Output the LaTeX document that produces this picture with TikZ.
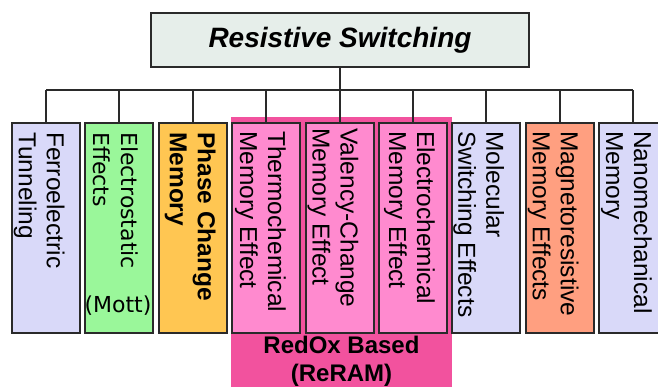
\documentclass[tikz,border=0pt]{standalone}
\usepackage{fontspec}
\setmainfont{Liberation Sans}
\newfontfamily\dejavu{DejaVu Sans}
\definecolor{linec}{HTML}{2A2A2A}
\definecolor{titlefill}{HTML}{E6EEEA}
\definecolor{lav}{HTML}{D9D9F9}
\definecolor{grn}{HTML}{9AF79A}
\definecolor{org}{HTML}{FFC652}
\definecolor{pnk}{HTML}{FF8ACF}
\definecolor{redox}{HTML}{F2529E}
\definecolor{salm}{HTML}{FF9F80}
\begin{document}
\begin{tikzpicture}[x=1pt,y=-1pt,
  box/.style={draw=linec, line width=1.9pt, minimum width=68pt, minimum height=210pt, inner sep=0pt, anchor=north},
  lbl/.style={rotate=-90, anchor=north west, inner sep=0pt, align=left, font=\fontsize{24.5}{28}\selectfont, text=black},
  conn/.style={draw=linec, line width=1.9pt}]
\useasboundingbox (0,0) rectangle (658,387);
\clip (0,0) rectangle (658,387);
% RedOx group background
\fill[redox] (231,117) rectangle (452,395);
\node[font=\bfseries\fontsize{24}{28}\selectfont, align=center, text=black, anchor=north, inner sep=0pt] (redoxlbl) at (341.5,336) {RedOx Based\\(ReRAM)};
% title
\node[draw=linec, line width=1.9pt, fill=titlefill, minimum width=378pt, minimum height=54pt, inner sep=0pt,
  font=\bfseries\itshape\fontsize{28}{32}\selectfont] (title) at (340,40) {Resistive Switching};
% boxes
\node[box, fill=lav] (b1) at (46,122) {};
\node[box, fill=grn] (b2) at (119.4,122) {};
\node[box, fill=org] (b3) at (192.8,122) {};
\node[box, fill=pnk] (b4) at (266.2,122) {};
\node[box, fill=pnk] (b5) at (339.6,122) {};
\node[box, fill=pnk] (b6) at (413,122) {};
\node[box, fill=lav] (b7) at (486.4,122) {};
\node[box, fill=salm] (b8) at (559.8,122) {};
\node[box, fill=lav] (b9) at (633.2,122) {};
% connectors
\coordinate (bus) at (46,90);
\draw[conn] (title.south) -- (title.south |- bus);
\draw[conn] (b1.north |- bus) -- (b9.north |- bus);
\foreach \i in {1,...,9} {\draw[conn] (b\i.north) -- (b\i.north |- bus);}
% labels
\node[lbl] (t1) at ([xshift=-16pt,yshift=-10pt]b1.north east) {Ferroelectric\\Tunneling};
\node[lbl, font=\dejavu\fontsize{22}{28}\selectfont] (t2) at ([xshift=-16pt,yshift=-10pt]b2.north east) {Electrostatic\\Effects};
\node[font=\dejavu\fontsize{22}{26}\selectfont, anchor=base, inner sep=0pt] (t2b) at (118,312) {(Mott)};
\node[lbl, font=\bfseries\fontsize{24.5}{28}\selectfont] (t3) at ([xshift=-12pt,yshift=-10pt]b3.north east) {Phase Change\\Memory};
\node[lbl] (t4) at ([xshift=-15pt,yshift=-9pt]b4.north east) {Thermochemical\\Memory Effect};
\node[lbl] (t5) at ([xshift=-16pt,yshift=-6pt]b5.north east) {Valency-Change\\Memory Effect};
\node[lbl] (t6) at ([xshift=-13pt,yshift=-9pt]b6.north east) {Electrochemical\\Memory Effect};
\node[lbl] (t7) at ([xshift=-17pt,yshift=-9pt]b7.north east) {Molecular\\Switching Effects};
\node[lbl] (t8) at ([xshift=-16pt,yshift=-9pt]b8.north east) {Magnetoresistive\\Memory Effects};
\node[lbl] (t9) at ([xshift=-16pt,yshift=-9pt]b9.north east) {Nanomechanical\\Memory};
\end{tikzpicture}
\end{document}
